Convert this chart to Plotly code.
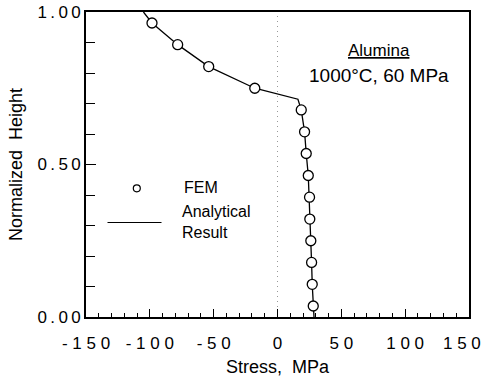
import plotly.graph_objects as go

# FEM points
fem_stress = [28.0, 27.2, 26.7, 26.1, 25.3, 25.1, 24.1, 22.5, 21.2, 18.6, -17.8, -53.9, -78.2, -98.3]
fem_height = [0.036, 0.107, 0.179, 0.250, 0.321, 0.393, 0.464, 0.536, 0.607, 0.679, 0.750, 0.821, 0.893, 0.964]

# Analytical result line
line_stress = [28.6, 28.0, 27.2, 26.7, 26.1, 25.3, 25.1, 24.1, 22.5, 21.2, 18.6, 16.0, -17.8, -53.9, -78.2, -98.3, -105.0]
line_height = [0.0, 0.036, 0.107, 0.179, 0.250, 0.321, 0.393, 0.464, 0.536, 0.607, 0.679, 0.714, 0.750, 0.821, 0.893, 0.964, 1.0]

x_tickvals = [-150, -100, -50, 0, 50, 100, 150]
x_ticktext = ["- 1 5 0", "- 1 0 0", "- 5 0", "0", "5 0", "1 0 0", "1 5 0"]
y_tickvals = [0.0, 0.5, 1.0]
y_ticktext = ["0\u2009.\u20090\u20090", "0\u2009.\u20095\u20090", "1\u2009.\u20090\u20090"]

FONT = "Liberation Sans, Arial, Helvetica, sans-serif"

fig = go.Figure()
fig.add_trace(go.Scatter(x=line_stress, y=line_height, mode="lines",
                         line=dict(color="black", width=1.3), showlegend=False, hoverinfo="skip"))
fig.add_trace(go.Scatter(x=fem_stress, y=fem_height, mode="markers",
                         marker=dict(symbol="circle", size=10, color="white",
                                     line=dict(color="black", width=1.3)),
                         showlegend=False))

# dotted zero line
fig.add_shape(type="line", xref="x", yref="paper", x0=0, x1=0, y0=0, y1=1,
              line=dict(color="#999999", width=1, dash="1px,4px"), layer="below")

# manual legend (paper coordinates)
L, R, T, B = 86, 469, 12, 317
W, H = R - L, B - T
def px(x): return (x - L) / W
def py(y): return (B - y) / H

fig.add_shape(type="circle", xref="paper", yref="paper",
              x0=px(133.3), x1=px(140.3), y0=py(191.8), y1=py(184.8),
              line=dict(color="black", width=1.2), fillcolor="white")
fig.add_shape(type="line", xref="paper", yref="paper",
              x0=px(107.5), x1=px(161.5), y0=py(222.5), y1=py(222.5),
              line=dict(color="black", width=1.2))
fig.add_annotation(xref="paper", yref="paper", x=px(182), y=py(188), text="FEM",
                   showarrow=False, xanchor="left", yanchor="middle",
                   font=dict(family=FONT, size=16, color="black"))
fig.add_annotation(xref="paper", yref="paper", x=px(180), y=py(222), text="Analytical<br>Result",
                   showarrow=False, xanchor="left", yanchor="middle", align="left",
                   font=dict(family=FONT, size=16, color="black"))

# material annotation
fig.add_annotation(xref="paper", yref="paper", x=px(379), y=py(50), text="<u>Alumina</u>",
                   showarrow=False, xanchor="center", yanchor="middle",
                   font=dict(family=FONT, size=17, color="black"))
fig.add_annotation(xref="paper", yref="paper", x=px(379), y=py(75), text="1000°C, 60 MPa",
                   showarrow=False, xanchor="center", yanchor="middle",
                   font=dict(family=FONT, size=19, color="black"))

# last x tick label, nudged left so it stays inside the page
fig.add_annotation(xref="x", yref="paper", x=x_tickvals[-1], y=py(343), text=x_ticktext[-1],
                   showarrow=False, xanchor="center", yanchor="middle", xshift=-7,
                   font=dict(family=FONT, size=17, color="black"))
shown_ticktext = x_ticktext[:-1] + [""]

fig.update_xaxes(range=[-150, 150], tickvals=x_tickvals, ticktext=shown_ticktext,
                 ticks="inside", ticklen=8, tickwidth=1.3, tickcolor="black",
                 minor=dict(dtick=10, tick0=0, ticks="inside", ticklen=4, tickwidth=1, tickcolor="black"),
                 showline=True, linecolor="black", linewidth=1.6, mirror=True,
                 showgrid=False, zeroline=False, automargin=False,
                 ticklabeloverflow="allow", ticklabelstandoff=10,
                 tickfont=dict(family=FONT, size=17, color="black"),
                 title=dict(text="Stress,\u00a0\u00a0MPa", font=dict(family=FONT, size=18, color="black"), standoff=8))
fig.update_yaxes(range=[0, 1], tickvals=y_tickvals, ticktext=y_ticktext,
                 ticks="inside", ticklen=10, tickwidth=1.3, tickcolor="black",
                 minor=dict(dtick=0.1, tick0=0, ticks="inside", ticklen=9, tickwidth=1, tickcolor="black"),
                 showline=True, linecolor="black", linewidth=1.6, mirror=True,
                 showgrid=False, zeroline=False, automargin=False,
                 ticklabeloverflow="allow",
                 tickfont=dict(family=FONT, size=17, color="black"),
                 title=dict(text="Normalized\u00a0\u00a0Height", font=dict(family=FONT, size=18, color="black"), standoff=10))

fig.update_layout(width=486, height=378, margin=dict(l=86, r=17, t=12, b=61, autoexpand=False),
                  paper_bgcolor="white", plot_bgcolor="white", showlegend=False)

fig.write_html("out.html")
